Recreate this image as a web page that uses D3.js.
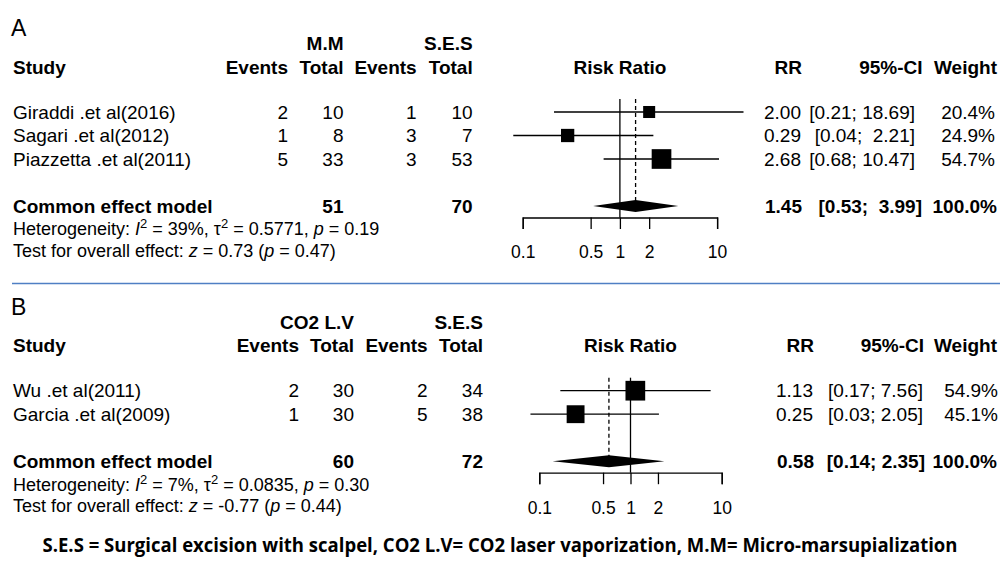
<!DOCTYPE html>
<html>
<head>
<meta charset="utf-8">
<script src="https://cdn.jsdelivr.net/npm/d3@7"></script>
<style>
  body { margin: 0; background: #fff; }
  svg text { font-family: "Liberation Sans", Arial, sans-serif; fill: #000; white-space: pre; }
  .bold { font-weight: bold; }
</style>
</head>
<body>
<div id="chart"></div>
<script>
// Panel A: M.M vs S.E.S
var studiesA = ["Giraddi .et al(2016)", "Sagari .et al(2012)", "Piazzetta .et al(2011)"];
var eventsA1 = [2, 1, 5];
var totalA1 = [10, 8, 33];
var eventsA2 = [1, 3, 3];
var totalA2 = [10, 7, 53];
var rrA = [2.00, 0.29, 2.68];
var lowerA = [0.21, 0.04, 0.68];
var upperA = [18.69, 2.21, 10.47];
var weightA = [20.4, 24.9, 54.7];
var pooledA = [1.45, 0.53, 3.99];
var sumTotalsA = [51, 70];
var hetA = ["39%", "0.5771", "0.19"];
var testA = ["0.73", "0.47"];

// Panel B: CO2 L.V vs S.E.S
var studiesB = ["Wu .et al(2011)", "Garcia .et al(2009)"];
var eventsB1 = [2, 1];
var totalB1 = [30, 30];
var eventsB2 = [2, 5];
var totalB2 = [34, 38];
var rrB = [1.13, 0.25];
var lowerB = [0.17, 0.03];
var upperB = [7.56, 2.05];
var weightB = [54.9, 45.1];
var pooledB = [0.58, 0.14, 2.35];
var sumTotalsB = [60, 72];
var hetB = ["7%", "0.0835", "0.30"];
var testB = ["-0.77", "0.44"];

var axisTicks = [0.1, 0.5, 1, 2, 10];

var width = 1000, height = 570;
var fs = 19;      // table text
var fsHet = 18;   // heterogeneity / test lines
var fsAxis = 17.5;

var svg = d3.select("#chart").append("svg")
  .attr("width", width)
  .attr("height", height);

function fmt(v) { return d3.format(".2f")(v); }

// R's meta pads the upper bound so the brackets line up
function ciText(lo, hi, padTo) {
  var h = fmt(hi);
  while (h.length < padTo) h = " " + h;
  return "[" + fmt(lo) + "; " + h + "]";
}

function txt(g, x, y, s, anchor, bold, size) {
  return g.append("text")
    .attr("x", x)
    .attr("y", y)
    .attr("dy", "0.35em")
    .attr("text-anchor", anchor || "start")
    .attr("class", bold ? "bold" : null)
    .style("font-size", (size || fs) + "px")
    .text(s);
}

function drawPanel(p) {
  var g = svg.append("g");
  var x = d3.scaleLog().domain([0.1, 10]).range(p.xRange);
  var rowY = function (i) { return p.row1 + i * 23.5; };
  var sumY = rowY(p.studies.length + 1);
  var axisY = sumY + 11.5;
  var size = d3.scaleSqrt().domain([0, 100]).range([0, 26.6]);
  var ciPad = d3.max(p.upper.concat([p.pooled[2]]), function (d) { return fmt(d).length; });
  var hy = p.row1 - 45;

  // panel letter + headers
  txt(g, 11, p.row1 - 84, p.letter, "start", false, 23);
  txt(g, p.cols[1], p.row1 - 68.5, p.group1, "end", true);
  txt(g, p.cols[3], p.row1 - 68.5, "S.E.S", "end", true);
  txt(g, 13, hy, "Study", "start", true);
  txt(g, p.cols[0], hy, "Events", "end", true);
  txt(g, p.cols[1], hy, "Total", "end", true);
  txt(g, p.cols[2], hy, "Events", "end", true);
  txt(g, p.cols[3], hy, "Total", "end", true);
  txt(g, (p.xRange[0] + p.xRange[1]) / 2, hy, "Risk Ratio", "middle", true);
  txt(g, p.right[0] + 1, hy, "RR", "end", true);
  txt(g, p.right[3], hy, "95%-CI", "end", true);
  txt(g, 997, hy, "Weight", "end", true);

  // study rows
  p.studies.forEach(function (s, i) {
    var y = rowY(i);
    txt(g, 13, y, s);
    txt(g, p.cols[0], y, p.e1[i], "end");
    txt(g, p.cols[1], y, p.t1[i], "end");
    txt(g, p.cols[2], y, p.e2[i], "end");
    txt(g, p.cols[3], y, p.t2[i], "end");
    txt(g, p.right[0], y, fmt(p.rr[i]), "end");
    txt(g, p.right[1], y, ciText(p.lower[i], p.upper[i], ciPad), "end");
    txt(g, p.right[4], y, p.weight[i].toFixed(1) + "%", "end");
  });

  // summary row
  txt(g, 13, sumY, "Common effect model", "start", true);
  txt(g, p.cols[1], sumY, p.sums[0], "end", true);
  txt(g, p.cols[3], sumY, p.sums[1], "end", true);
  txt(g, p.right[0] + 1, sumY, fmt(p.pooled[0]), "end", true);
  txt(g, p.right[2], sumY, ciText(p.pooled[1], p.pooled[2], ciPad), "end", true);
  txt(g, 997, sumY, "100.0%", "end", true);

  // heterogeneity + overall test
  var h = g.append("text").attr("x", 13).attr("y", sumY + 23).attr("dy", "0.35em")
    .style("font-size", fsHet + "px");
  h.append("tspan").text("Heterogeneity: ");
  h.append("tspan").style("font-style", "italic").text("I");
  h.append("tspan").attr("dy", -7).style("font-size", "13px").text("2");
  h.append("tspan").attr("dy", 7).text(" = " + p.het[0] + ", \u03c4");
  h.append("tspan").attr("dy", -7).style("font-size", "13px").text("2");
  h.append("tspan").attr("dy", 7).text(" = " + p.het[1] + ", ");
  h.append("tspan").style("font-style", "italic").text("p");
  h.append("tspan").text(" = " + p.het[2]);

  var t = g.append("text").attr("x", 13).attr("y", sumY + 44.5).attr("dy", "0.35em")
    .style("font-size", fsHet + "px");
  t.append("tspan").text("Test for overall effect: ");
  t.append("tspan").style("font-style", "italic").text("z");
  t.append("tspan").text(" = " + p.test[0] + " (");
  t.append("tspan").style("font-style", "italic").text("p");
  t.append("tspan").text(" = " + p.test[1] + ")");

  // reference line at 1 and dashed line at pooled estimate
  g.append("line")
    .attr("x1", x(1)).attr("x2", x(1))
    .attr("y1", p.row1 - 13).attr("y2", axisY)
    .attr("stroke", "#000").attr("stroke-width", 1.3);
  g.append("line")
    .attr("x1", x(p.pooled[0])).attr("x2", x(p.pooled[0]))
    .attr("y1", p.row1 - 13).attr("y2", sumY)
    .attr("stroke", "#000").attr("stroke-width", 1.3)
    .attr("stroke-dasharray", "4,3");

  // confidence intervals
  g.selectAll(".ci")
    .data(p.rr)
    .enter()
    .append("line")
    .attr("x1", function (_, i) { return x(Math.max(p.lower[i], 0.08)); })
    .attr("x2", function (_, i) { return x(p.upper[i]); })
    .attr("y1", function (_, i) { return rowY(i); })
    .attr("y2", function (_, i) { return rowY(i); })
    .attr("stroke", "#000").attr("stroke-width", 1.3);

  // squares sized by weight
  g.selectAll(".sq")
    .data(p.rr)
    .enter()
    .append("rect")
    .attr("x", function (d, i) { return x(d) - size(p.weight[i]) / 2; })
    .attr("y", function (_, i) { return rowY(i) - size(p.weight[i]) / 2; })
    .attr("width", function (_, i) { return size(p.weight[i]); })
    .attr("height", function (_, i) { return size(p.weight[i]); })
    .attr("fill", "#000");

  // pooled diamond
  g.append("polygon")
    .attr("points", [
      [x(p.pooled[1]), sumY], [x(p.pooled[0]), sumY - 6],
      [x(p.pooled[2]), sumY], [x(p.pooled[0]), sumY + 6]
    ].join(" "))
    .attr("fill", "#000");

  // log axis
  var axis = d3.axisBottom(x)
    .tickValues(axisTicks)
    .tickFormat(function (d) { return String(d); })
    .tickSizeOuter(0)
    .tickSize(11.5)
    .tickPadding(17);
  var ag = g.append("g")
    .attr("transform", "translate(0," + axisY + ")")
    .call(axis);
  ag.select(".domain").attr("stroke-width", 1.3);
  ag.selectAll(".tick line").attr("stroke-width", 1.3);
  ag.selectAll(".tick text")
    .style("font-size", fsAxis + "px")
    .style("font-family", "Liberation Sans, Arial, sans-serif");
}

drawPanel({
  letter: "A", group1: "M.M",
  studies: studiesA, e1: eventsA1, t1: totalA1, e2: eventsA2, t2: totalA2,
  rr: rrA, lower: lowerA, upper: upperA, weight: weightA, pooled: pooledA,
  sums: sumTotalsA, het: hetA, test: testA,
  row1: 112, xRange: [522.7, 717.1],
  cols: [288, 343.5, 416.7, 472.7],
  right: [801, 915, 922, 922.5, 995]
});

// separator
svg.append("line")
  .attr("x1", 12).attr("x2", 1000)
  .attr("y1", 283.5).attr("y2", 283.5)
  .attr("stroke", "#4f7fc4").attr("stroke-width", 1.4);

drawPanel({
  letter: "B", group1: "CO2 L.V",
  studies: studiesB, e1: eventsB1, t1: totalB1, e2: eventsB2, t2: totalB2,
  rr: rrB, lower: lowerB, upper: upperB, weight: weightB, pooled: pooledB,
  sums: sumTotalsB, het: hetB, test: testB,
  row1: 390.7, xRange: [539.3, 721.7],
  cols: [299, 354, 427.7, 483],
  right: [813, 923, 925, 924, 998]
});

svg.append("text")
  .attr("x", 500)
  .attr("y", 552)
  .attr("text-anchor", "middle")
  .attr("textLength", 915)
  .attr("lengthAdjust", "spacingAndGlyphs")
  .style("font-family", "'Open Sans', sans-serif")
  .style("font-weight", "bold")
  .style("font-size", "19px")
  .text("S.E.S = Surgical excision with scalpel, CO2 L.V= CO2 laser vaporization, M.M= Micro-marsupialization");
</script>
</body>
</html>
